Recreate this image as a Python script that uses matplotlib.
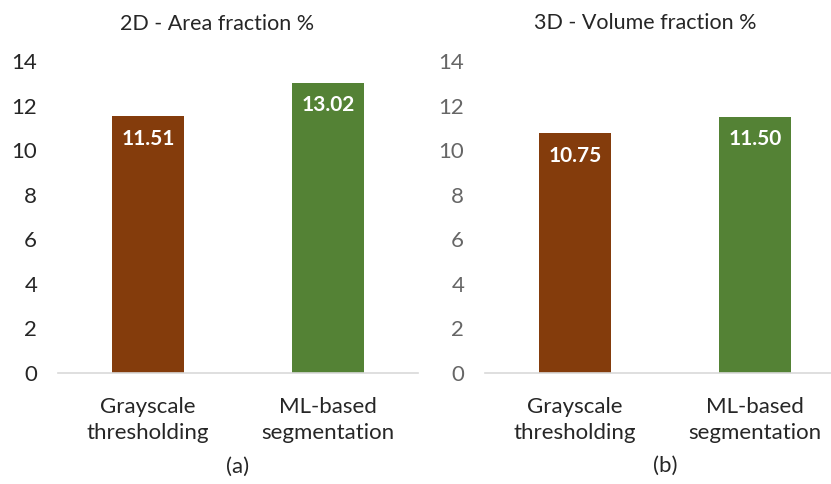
import matplotlib.pyplot as plt

plt.rcParams['font.family'] = ['Lato', 'DejaVu Sans']

methods = ['Grayscale\nthresholding', 'ML-based\nsegmentation']
area_2d = [11.51, 13.02]
volume_3d = [10.75, 11.50]
bar_colors = ['#843C0C', '#548235']

fig = plt.figure(figsize=(8.31, 4.84), dpi=100)

W, H = 831, 484
def px_axes(x0, x1, ytop, ybot):
    return fig.add_axes([x0 / W, 1 - ybot / H, (x1 - x0) / W, (ybot - ytop) / H])

ax1 = px_axes(58, 418, 61, 373)
ax2 = px_axes(485, 831, 61, 373)

def draw_panel(ax, vals, tick_color, xmax):
	bars = ax.bar(range(len(vals)), vals, width=0.4, color=bar_colors)
	for b, v in zip(bars, vals):
		ax.annotate('%.2f' % v, (b.get_x() + b.get_width() / 2, v),
		            xytext=(0, -16), textcoords='offset points',
		            ha='center', va='center', color='white',
		            fontsize=15, fontweight='bold')
	ax.set_xlim(-0.5, xmax)
	ax.set_ylim(0, 14)
	ax.set_yticks(range(0, 15, 2))
	ax.set_xticks(range(len(vals)))
	ax.set_xticklabels(methods, linespacing=1.38)
	for s in ['top', 'right', 'left']:
		ax.spines[s].set_visible(False)
	ax.spines['bottom'].set_color('#D9D9D9')
	ax.spines['bottom'].set_linewidth(1.2)
	ax.tick_params(axis='y', length=0, pad=15, labelsize=16, labelcolor=tick_color)
	ax.tick_params(axis='x', length=0, pad=17, labelsize=16, labelcolor='#262626')

draw_panel(ax1, area_2d, '#262626', 1.5)
draw_panel(ax2, volume_3d, '#666666', 1.5 - 14 / 180)

fig.text(217 / W, 1 - 24 / H, '2D - Area fraction %', ha='center', va='center', fontsize=15.5, color='#262626')
fig.text(645 / W, 1 - 23 / H, '3D - Volume fraction %', ha='center', va='center', fontsize=15.5, color='#262626')
fig.text(238 / W, 1 - 467 / H, '(a)', ha='center', va='center', fontsize=16, color='#262626')
fig.text(665 / W, 1 - 466 / H, '(b)', ha='center', va='center', fontsize=16, color='#262626')

fig.savefig('out.png', dpi=100)
